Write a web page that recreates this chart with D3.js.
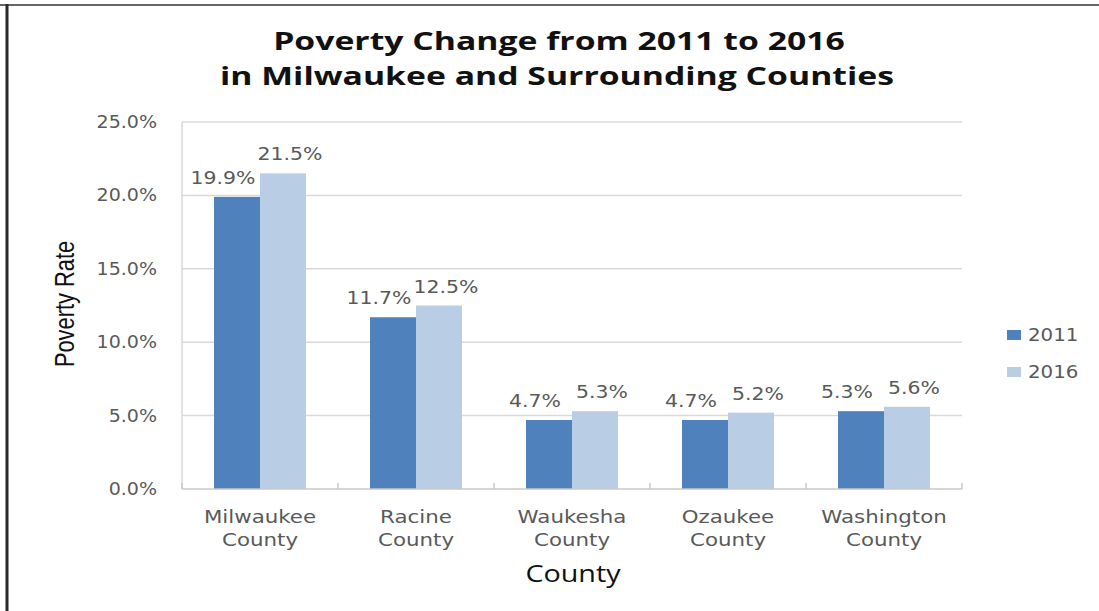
<!DOCTYPE html>
<html>
<head>
<meta charset="utf-8">
<script src="https://cdn.jsdelivr.net/npm/d3@7"></script>
<style>
  html, body { margin: 0; padding: 0; background: #ffffff; }
  svg { display: block; }
</style>
</head>
<body>
<svg id="chart" width="1099" height="611"></svg>
<script>
// ---- data ----
const titleLines = ["Poverty Change from 2011 to 2016", "in Milwaukee and Surrounding Counties"];
const categories = ["Milwaukee County", "Racine County", "Waukesha County", "Ozaukee County", "Washington County"];
const seriesNames = ["2011", "2016"];
const values2011 = [19.9, 11.7, 4.7, 4.7, 5.3];
const values2016 = [21.5, 12.5, 5.3, 5.2, 5.6];
const yTicks = [0, 5, 10, 15, 20, 25];
const yTitle = "Poverty Rate";
const xTitle = "County";

// ---- styles ----
const colors = { "2011": "#4f81bd", "2016": "#b9cde5" };
const labelFont = "'DejaVu Sans', Verdana, sans-serif";
const titleFont = "'Open Sans', 'Noto Sans', sans-serif";
const grayText = "#595959";

const svg = d3.select("#chart");
const W = 1099, H = 611;
const plot = { left: 182, right: 962, top: 122, bottom: 489 };

// frame
svg.append("line").attr("x1", 0).attr("x2", W).attr("y1", 5).attr("y2", 5)
  .attr("stroke", "#666").attr("stroke-width", 2);
svg.append("line").attr("x1", 7).attr("x2", 7).attr("y1", 4).attr("y2", H)
  .attr("stroke", "#2a2a2a").attr("stroke-width", 3);

// scales
const y = d3.scaleLinear().domain([0, 25]).range([plot.bottom, plot.top]);
const x0 = d3.scaleBand().domain(categories).range([plot.left, plot.right]).padding(0);
const x1 = d3.scaleBand().domain(seriesNames).range([0, x0.bandwidth()]).paddingInner(0).paddingOuter(0.696);

// helper: place text with horizontal stretch
function stretched(g, txt, x, yy, opts) {
  const t = g.append("text")
    .attr("transform", `translate(${x},${yy}) scale(${opts.sx || 1},1)`)
    .attr("text-anchor", opts.anchor || "middle")
    .attr("font-family", opts.font || labelFont)
    .attr("font-size", opts.size)
    .attr("font-weight", opts.weight || "normal")
    .attr("fill", opts.fill || grayText)
    .text(txt);
  if (opts.dy) t.attr("dy", opts.dy);
  return t;
}

// gridlines
const grid = svg.append("g");
grid.selectAll("line").data(yTicks.filter(d => d > 0)).join("line")
  .attr("x1", plot.left).attr("x2", plot.right)
  .attr("y1", d => y(d)).attr("y2", d => y(d))
  .attr("stroke", "#d9d9d9").attr("stroke-width", 1.5);

// y axis line (left)
svg.append("line").attr("x1", plot.left).attr("x2", plot.left)
  .attr("y1", plot.top).attr("y2", plot.bottom)
  .attr("stroke", "#d9d9d9").attr("stroke-width", 1.5);

// y tick labels
const yl = svg.append("g");
yTicks.forEach(v => {
  stretched(yl, d3.format(".1f")(v) + "%", 157, y(v), { size: 17, sx: 1.12, anchor: "end", dy: "0.35em" });
});

// bars
const barsData = [];
categories.forEach((c, i) => {
  barsData.push({ cat: c, s: "2011", v: values2011[i] });
  barsData.push({ cat: c, s: "2016", v: values2016[i] });
});
svg.append("g").selectAll("rect").data(barsData).join("rect")
  .attr("x", d => x0(d.cat) + x1(d.s))
  .attr("width", x1.bandwidth())
  .attr("y", d => y(d.v))
  .attr("height", d => y(0) - y(d.v))
  .attr("fill", d => colors[d.s]);

// x axis baseline + ticks
const xa = svg.append("g");
xa.append("line").attr("x1", plot.left).attr("x2", plot.right)
  .attr("y1", plot.bottom).attr("y2", plot.bottom)
  .attr("stroke", "#c8c8c8").attr("stroke-width", 1.5);
const boundaries = categories.map(c => x0(c)).concat([plot.right]);
xa.selectAll("line.tk").data(boundaries).join("line").attr("class", "tk")
  .attr("x1", d => d).attr("x2", d => d)
  .attr("y1", plot.bottom).attr("y2", plot.bottom - 6)
  .attr("stroke", "#c8c8c8").attr("stroke-width", 1.5);

// data labels
const labelDx = { "2011": -14, "2016": 7 };
const dl = svg.append("g");
barsData.forEach(d => {
  const cx = x0(d.cat) + x1(d.s) + x1.bandwidth() / 2 + labelDx[d.s];
  stretched(dl, d3.format(".1f")(d.v) + "%", cx, y(d.v) - 13, { size: 17, sx: 1.2 });
});

// category labels (two lines)
const cl = svg.append("g");
categories.forEach(c => {
  const parts = c.split(" ");
  const cx = x0(c) + x0.bandwidth() / 2;
  stretched(cl, parts[0], cx, 523, { size: 17.5, sx: 1.22 });
  stretched(cl, parts[1], cx, 546, { size: 17.5, sx: 1.22 });
});

// axis titles
stretched(svg, xTitle, 573, 582, { size: 23, sx: 1.25, font: titleFont, fill: "#111" });
svg.append("text")
  .attr("transform", `translate(74,304) rotate(-90) scale(0.95,1.2)`)
  .attr("text-anchor", "middle")
  .attr("font-family", "'Liberation Sans Narrow', 'Liberation Sans', sans-serif")
  .attr("font-size", 23)
  .attr("fill", "#111")
  .text(yTitle);

// chart title
stretched(svg, titleLines[0], 559, 50, { size: 25, sx: 1.35, font: titleFont, weight: "bold", fill: "#111" });
stretched(svg, titleLines[1], 557, 85, { size: 25, sx: 1.35, font: titleFont, weight: "bold", fill: "#111" });

// legend
const lg = svg.append("g");
seriesNames.forEach((s, i) => {
  const yy = 335 + i * 37;
  lg.append("rect").attr("x", 1007).attr("y", yy - 5).attr("width", 14).attr("height", 10)
    .attr("fill", colors[s]);
  stretched(lg, s, 1028, yy, { size: 18, sx: 1.1, anchor: "start", dy: "0.35em" });
});
</script>
</body>
</html>
